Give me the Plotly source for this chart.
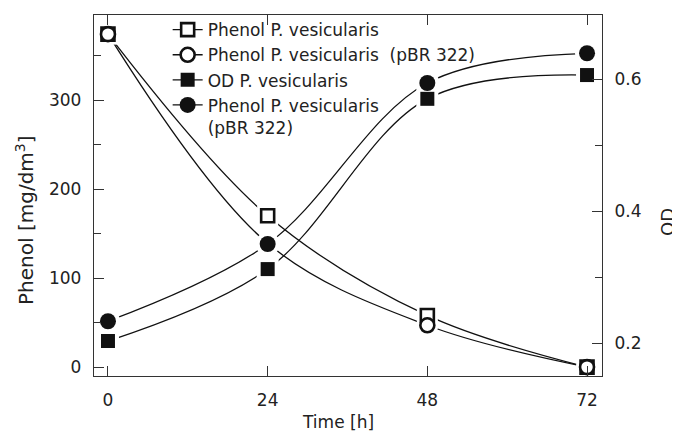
import plotly.graph_objects as go

# ---- data ----
time_h = [0, 24, 48, 72]
phenol_pv = [374, 170, 58, 0]          # open squares (left axis)
phenol_pv_pbr = [374, 139, 47, 0]      # open circles (left axis)
od_pv = [0.203, 0.312, 0.570, 0.606]   # filled squares (right axis)
od_pv_pbr = [0.233, 0.350, 0.594, 0.639]  # filled circles (right axis)

names = [
    "Phenol P. vesicularis",
    "Phenol P. vesicularis  (pBR 322)",
    "OD P. vesicularis",
    "Phenol P. vesicularis<br>(pBR 322)",
]
x_ticks = [0, 24, 48, 72]
left_ticks = [0, 100, 200, 300]
right_ticks = [0.2, 0.4, 0.6]

series = [
    (phenol_pv, "y", "square", "white", 13),
    (phenol_pv_pbr, "y", "circle", "white", 14),
    (od_pv, "y2", "square", "#111", 14),
    (od_pv_pbr, "y2", "circle", "#111", 16),
]

INK = "#111"
fig = go.Figure()

# smooth connecting curves
for vals, ax, sym, fill, sz in series:
    fig.add_trace(go.Scatter(x=time_h, y=vals, yaxis=ax, mode="lines",
                             line=dict(color=INK, width=1.3, shape="spline", smoothing=1),
                             showlegend=False, hoverinfo="skip"))
# white halos (gap between curve and marker)
for vals, ax, sym, fill, sz in series:
    fig.add_trace(go.Scatter(x=time_h, y=vals, yaxis=ax, mode="markers",
                             marker=dict(symbol=sym, size=sz + 8, color="white",
                                         line=dict(width=0)),
                             showlegend=False, hoverinfo="skip"))
# markers
for vals, ax, sym, fill, sz in series:
    fig.add_trace(go.Scatter(x=time_h, y=vals, yaxis=ax, mode="markers",
                             marker=dict(symbol=sym, size=sz, color=fill,
                                         line=dict(color=INK, width=2.6 if fill == "white" else 0)),
                             showlegend=False))
# legend entries
for (vals, ax, sym, fill, sz), nm in zip(series, names):
    fig.add_trace(go.Scatter(x=[None], y=[None], yaxis=ax, mode="lines+markers", name=nm,
                             line=dict(color=INK, width=1.3),
                             marker=dict(symbol=sym, size=sz, color=fill,
                                         line=dict(color=INK, width=2.6 if fill == "white" else 0))))

FAM = "DejaVu Sans, Liberation Sans, sans-serif"
FONT = dict(family=FAM, size=17, color="#222")
AX = "#333"

# page body has an 8px default margin; figure sized so it fits the 680x441 window
fig.update_layout(
    width=672, height=433,
    margin=dict(l=86, r=78, t=7, b=65, autoexpand=False),
    paper_bgcolor="white", plot_bgcolor="white",
    font=FONT,
    showlegend=True,
    legend=dict(x=0.145, y=1.008, xanchor="left", yanchor="top",
                bgcolor="rgba(0,0,0,0)", borderwidth=0, valign="top",
                font=dict(family=FAM, size=17, color="#222"), tracegroupgap=0),
    xaxis=dict(range=[-2.1, 74.25], tickvals=x_ticks, ticks="inside", ticklen=10,
               tickcolor=AX, tickwidth=1.3, showline=True, linecolor=AX, linewidth=1.3,
               mirror="ticks", showgrid=False, zeroline=False, ticklabelstandoff=8,
               automargin=False),
    yaxis=dict(range=[-10, 395.5], tickvals=left_ticks, ticks="inside", ticklen=10,
               tickcolor=AX, tickwidth=1.3, showline=True, linecolor=AX, linewidth=1.3,
               showgrid=False, zeroline=False, ticklabelstandoff=8, automargin=False,
               minor=dict(tickvals=[50, 150, 250, 350], ticks="inside", ticklen=7,
                          tickcolor=AX, tickwidth=1.3, showgrid=False)),
    yaxis2=dict(range=[0.15, 0.697], tickvals=right_ticks, tickformat=".1f",
                overlaying="y", side="right", ticks="inside", ticklen=10,
                tickcolor=AX, tickwidth=1.3, showline=True, linecolor=AX, linewidth=1.3,
                showgrid=False, zeroline=False, ticklabelstandoff=8, automargin=False,
                minor=dict(tickvals=[0.3, 0.5], ticks="inside", ticklen=7,
                           tickcolor=AX, tickwidth=1.3, showgrid=False)),
    annotations=[
        dict(text="Time [h]", xref="paper", yref="paper", x=0.480, y=-0.127,
             xanchor="center", yanchor="middle", showarrow=False, font=FONT),
        dict(text="Phenol [mg/dm<sup>3</sup>]", xref="paper", yref="paper", x=-0.136, y=0.432,
             xanchor="center", yanchor="middle", textangle=-90, showarrow=False,
             font=dict(family=FAM, size=20, color="#222")),
        dict(text="OD", xref="paper", yref="paper", x=1.130, y=0.427,
             xanchor="center", yanchor="middle", textangle=-90, showarrow=False,
             font=dict(family=FAM, size=18, color="#222")),
    ],
)

fig.write_html("out.html")
